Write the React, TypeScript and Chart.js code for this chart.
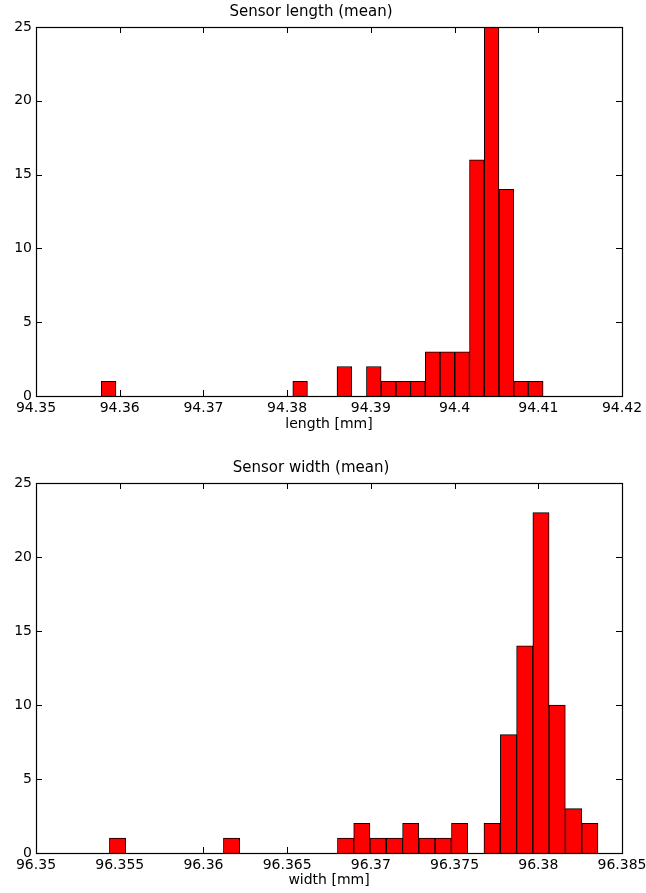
import { useEffect, useRef } from 'react';
import { Chart, registerables } from 'chart.js';

Chart.register(...registerables);

// Sensor length histogram: bin centres [mm] and counts per bin
const lengthBinCenters = [
  94.35868, 94.36044, 94.3622, 94.36396, 94.36572, 94.36748, 94.36924, 94.371, 94.37276, 94.37452,
  94.37628, 94.37803, 94.37979, 94.38155, 94.38331, 94.38507, 94.38683, 94.38859, 94.39035, 94.39211,
  94.39387, 94.39562, 94.39738, 94.39914, 94.4009, 94.40266, 94.40442, 94.40618, 94.40794, 94.4097,
];
const lengthCounts = [
  1, 0, 0, 0, 0, 0, 0, 0, 0, 0,
  0, 0, 0, 1, 0, 0, 2, 0, 2, 1,
  1, 1, 3, 3, 3, 16, 25, 14, 1, 1,
];
const lengthTicks = [94.35, 94.36, 94.37, 94.38, 94.39, 94.4, 94.41, 94.42];
const lengthTickLabels = ['94.35', '94.36', '94.37', '94.38', '94.39', '94.4', '94.41', '94.42'];

// Sensor width histogram: bin centres [mm] and counts per bin
const widthBinCenters = [
  96.35487, 96.35584, 96.35681, 96.35779, 96.35876, 96.35973, 96.3607, 96.36168, 96.36265, 96.36362,
  96.3646, 96.36557, 96.36654, 96.36751, 96.36849, 96.36946, 96.37043, 96.37141, 96.37238, 96.37335,
  96.37432, 96.3753, 96.37627, 96.37724, 96.37822, 96.37919, 96.38016, 96.38113, 96.38211, 96.38308,
];
const widthCounts = [
  1, 0, 0, 0, 0, 0, 0, 1, 0, 0,
  0, 0, 0, 0, 1, 2, 1, 1, 2, 1,
  1, 2, 0, 2, 8, 14, 23, 10, 3, 2,
];
const widthTicks = [96.35, 96.355, 96.36, 96.365, 96.37, 96.375, 96.38, 96.385];
const widthTickLabels = ['96.35', '96.355', '96.36', '96.365', '96.37', '96.375', '96.38', '96.385'];

const countTicks = [0, 5, 10, 15, 20, 25];
const countTickLabels = ['0', '5', '10', '15', '20', '25'];

const FONT = "'DejaVu Sans', 'Liberation Sans', Arial, sans-serif";
const PAGE_W = 646;

// Boxed axes with inward tick marks on all four sides
const boxedAxes = {
  id: 'boxedAxes',
  beforeDatasetsDraw(chart: any) {
    const { ctx, chartArea: a, scales } = chart;
    const x = scales.x;
    const y = scales.y;
    const len = 6;
    ctx.save();
    ctx.strokeStyle = '#000';
    ctx.lineWidth = 1;
    ctx.beginPath();
    x.ticks.forEach((t: any) => {
      const px = Math.round(x.getPixelForValue(t.value)) + 0.5;
      if (px <= a.left + 1 || px >= a.right - 1) return;
      ctx.moveTo(px, a.bottom);
      ctx.lineTo(px, a.bottom - len);
      ctx.moveTo(px, a.top);
      ctx.lineTo(px, a.top + len);
    });
    y.ticks.forEach((t: any) => {
      const py = Math.round(y.getPixelForValue(t.value)) + 0.5;
      if (py <= a.top + 1 || py >= a.bottom - 1) return;
      ctx.moveTo(a.left, py);
      ctx.lineTo(a.left + len, py);
      ctx.moveTo(a.right, py);
      ctx.lineTo(a.right - len, py);
    });
    ctx.stroke();
    ctx.restore();
  },
  afterDatasetsDraw(chart: any) {
    const { ctx, chartArea: a } = chart;
    ctx.save();
    ctx.strokeStyle = '#000';
    ctx.lineWidth = 1.2;
    ctx.strokeRect(Math.round(a.left) + 0.5, Math.round(a.top) + 0.5, Math.round(a.right - a.left), Math.round(a.bottom - a.top));
    ctx.restore();
  },
};

type HistProps = {
  top: number;
  height: number;
  title: string;
  xLabel: string;
  centers: number[];
  counts: number[];
  ticks: number[];
  tickLabels: string[];
  padTop: number;
  xAxisHeight: number;
  xTitlePadBottom: number;
};

function Histogram(p: HistProps) {
  const ref = useRef<HTMLCanvasElement | null>(null);

  useEffect(() => {
    if (!ref.current) return;
    const chart = new Chart(ref.current, {
      type: 'bar',
      data: {
        datasets: [
          {
            data: p.centers.map((c, i) => ({ x: c, y: p.counts[i] })),
            backgroundColor: '#ff0000',
            borderColor: '#000000',
            borderWidth: 1,
            borderSkipped: 'start',
            barPercentage: 1,
            categoryPercentage: 1,
          },
        ],
      },
      options: {
        responsive: false,
        animation: false,
        devicePixelRatio: 1,
        layout: { padding: { top: p.padTop, right: 24, bottom: 0, left: 0 } },
        plugins: {
          legend: { display: false },
          tooltip: { enabled: false },
          title: {
            display: true,
            text: p.title,
            color: '#000',
            font: { family: FONT, size: 15, weight: 'normal' },
            padding: { top: 3, bottom: 6 },
          },
        },
        scales: {
          x: {
            type: 'linear',
            offset: false,
            min: p.ticks[0],
            max: p.ticks[p.ticks.length - 1],
            grid: { display: false, drawTicks: false },
            border: { display: false },
            afterBuildTicks: (scale: any) => {
              scale.ticks = p.ticks.map((v) => ({ value: v }));
            },
            afterFit: (scale: any) => {
              scale.height = p.xAxisHeight;
              // keep the plot box fixed even when the end labels overhang it
              scale.paddingLeft = 0;
              scale.paddingRight = 0;
            },
            ticks: {
              color: '#000',
              padding: 4,
              maxRotation: 0,
              autoSkip: false,
              font: { family: FONT, size: 14 },
              callback: (_v: any, i: number) => p.tickLabels[i],
            },
            title: {
              display: true,
              text: p.xLabel,
              color: '#000',
              font: { family: FONT, size: 14 },
              padding: { top: 0, bottom: p.xTitlePadBottom },
            },
          },
          y: {
            type: 'linear',
            min: 0,
            max: 25,
            grid: { display: false, drawTicks: false },
            border: { display: false },
            afterBuildTicks: (scale: any) => {
              scale.ticks = countTicks.map((v) => ({ value: v }));
            },
            afterFit: (scale: any) => {
              scale.width = 36;
              scale.paddingTop = 0;
              scale.paddingBottom = 0;
            },
            ticks: {
              color: '#000',
              padding: 4,
              font: { family: FONT, size: 14 },
              callback: (_v: any, i: number) => countTickLabels[i],
            },
          },
        },
      },
      plugins: [boxedAxes],
    } as any);
    return () => chart.destroy();
  }, []);

  return (
    <canvas
      ref={ref}
      width={PAGE_W}
      height={p.height}
      style={{ position: 'absolute', left: 0, top: p.top, width: PAGE_W, height: p.height }}
    />
  );
}

export default function App() {
  return (
    <div style={{ position: 'absolute', left: 0, top: 0, width: PAGE_W, height: 893, background: '#fff' }}>
      <Histogram
        top={0}
        height={440}
        title="Sensor length (mean)"
        xLabel="length [mm]"
        centers={lengthBinCenters}
        counts={lengthCounts}
        ticks={lengthTicks}
        tickLabels={lengthTickLabels}
        padTop={0}
        xAxisHeight={44}
        xTitlePadBottom={7.6}
      />
      <Histogram
        top={440}
        height={453}
        title="Sensor width (mean)"
        xLabel="width [mm]"
        centers={widthBinCenters}
        counts={widthCounts}
        ticks={widthTicks}
        tickLabels={widthTickLabels}
        padTop={16}
        xAxisHeight={40}
        xTitlePadBottom={4.6}
      />
    </div>
  );
}
